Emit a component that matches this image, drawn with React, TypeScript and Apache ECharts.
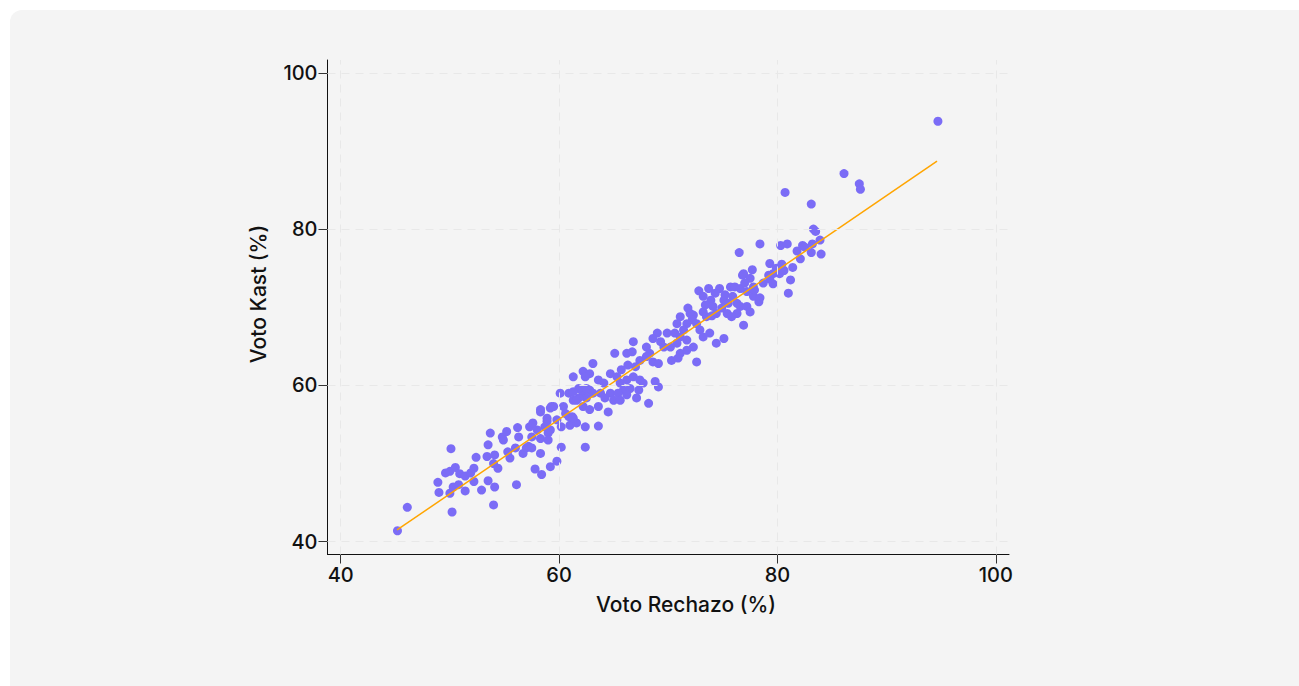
import { useEffect, useRef } from 'react';
import * as echarts from 'echarts';

// Voto Rechazo (%) por comuna
const rechazo = [
  45.2, 46.1, 94.7, 86.1, 87.5, 87.6, 80.7, 83.1, 76.5, 78.4,
  83.3, 83.5, 83.9, 80.3, 80.9, 82.3, 82.5, 81.8, 83.1, 83.2,
  84.0, 82.1, 79.3, 80.4, 79.9, 81.4, 80.2, 80.6, 79.6, 81.2,
  79.3, 78.7, 79.6, 81.0, 76.8, 76.9, 77.7, 77.5, 72.8, 73.7,
  73.2, 73.9, 74.7, 75.7, 76.1, 76.6, 77.2, 77.8, 75.1, 75.5,
  76.3, 74.9, 75.4, 76.6, 77.2, 77.8, 78.3, 76.9, 76.3, 75.8,
  77.5, 79.2, 74.1, 74.4, 73.5, 73.2, 72.3, 71.8, 72.0, 71.1,
  70.8, 72.2, 72.6, 72.9, 73.8, 73.2, 74.4, 75.1, 71.7, 71.4,
  70.6, 71.1, 71.7, 72.3, 72.6, 69.9, 69.0, 68.6, 69.3, 69.6,
  70.2, 70.8, 71.1, 71.7, 70.3, 70.9, 68.0, 68.3, 66.8, 65.1,
  66.2, 66.7, 67.4, 68.0, 68.6, 69.1, 66.3, 67.0, 65.7, 63.1,
  62.2, 62.8, 61.3, 62.4, 63.6, 64.1, 64.7, 65.3, 65.6, 66.2,
  66.8, 67.4, 65.9, 66.5, 67.3, 64.7, 65.4, 63.8, 64.2, 62.8,
  62.2, 62.5, 61.8, 62.2, 62.8, 63.6, 64.5, 65.0, 67.1, 68.2,
  68.8, 69.1, 60.1, 60.9, 61.3, 60.4, 59.3, 60.6, 61.2, 59.8,
  58.9, 60.2, 61.0, 58.3, 58.7, 59.0, 62.4, 63.6, 61.6, 67.7,
  50.2, 54.0, 49.0, 48.9, 50.0, 50.3, 50.8, 51.4, 52.9, 53.5,
  54.1, 56.1, 49.6, 50.0, 50.5, 50.9, 51.4, 51.9, 52.2, 52.2,
  50.1, 52.4, 53.5, 53.7, 53.4, 54.1, 54.0, 54.4, 54.8, 55.2,
  55.3, 55.5, 56.2, 56.3, 56.0, 56.7, 57.0, 57.3, 57.6, 58.0,
  57.5, 58.3, 57.2, 57.5, 58.3, 58.3, 57.8, 58.4, 59.2, 59.8,
  60.2, 58.9, 59.2, 59.2, 59.5, 60.9, 61.3, 61.6, 62.1, 62.4,
  61.8, 62.5, 63.1, 61.3, 65.6, 66.2, 54.9, 59.0, 74.3, 75.2,
  77.0, 77.9, 78.4, 75.9, 73.4, 74.0,
];

// Voto Kast (%) por comuna
const kast = [
  41.4, 44.4, 93.8, 87.1, 85.8, 85.1, 84.7, 83.2, 77.0, 78.1,
  80.0, 79.7, 78.6, 77.9, 78.1, 77.9, 77.7, 77.2, 77.0, 78.1,
  76.8, 76.2, 75.6, 75.5, 75.0, 75.1, 74.3, 74.7, 74.3, 73.5,
  73.6, 73.1, 73.0, 71.8, 74.1, 74.3, 74.8, 73.7, 72.1, 72.4,
  71.4, 70.9, 72.4, 72.6, 72.6, 72.4, 72.0, 72.6, 70.9, 70.5,
  70.5, 69.9, 69.2, 70.1, 70.1, 71.4, 70.7, 67.7, 69.2, 68.8,
  69.4, 74.1, 70.1, 69.2, 68.8, 69.4, 69.0, 69.9, 69.2, 68.8,
  67.9, 68.4, 67.9, 67.1, 66.7, 66.2, 65.4, 66.0, 67.9, 67.1,
  66.7, 66.2, 65.8, 64.9, 63.0, 66.7, 66.7, 66.0, 65.6, 64.9,
  64.9, 65.4, 64.1, 64.5, 63.2, 63.5, 64.9, 64.1, 65.6, 64.1,
  64.1, 64.3, 63.2, 63.7, 63.0, 62.8, 62.6, 62.4, 62.0, 62.8,
  61.8, 61.5, 61.1, 61.1, 60.7, 60.3, 61.5, 61.1, 60.3, 60.7,
  61.1, 60.7, 59.4, 59.6, 59.4, 59.0, 59.0, 59.0, 58.4, 59.4,
  59.0, 58.4, 58.4, 57.3, 56.9, 57.3, 56.6, 58.1, 58.4, 57.7,
  60.5, 59.8, 59.0, 59.0, 58.1, 57.3, 57.3, 56.4, 56.0, 55.6,
  55.8, 54.7, 54.9, 56.6, 54.7, 53.9, 54.7, 54.8, 55.2, 60.3,
  43.8, 44.7, 46.3, 47.6, 46.2, 47.0, 47.3, 46.5, 46.6, 47.8,
  47.0, 47.3, 48.8, 49.0, 49.5, 48.7, 48.4, 48.8, 49.4, 47.7,
  51.9, 50.8, 52.4, 53.9, 50.9, 51.1, 50.0, 49.4, 53.4, 54.1,
  51.5, 50.7, 54.6, 53.4, 52.0, 51.3, 52.0, 54.7, 55.2, 54.3,
  53.4, 53.2, 52.2, 52.0, 51.3, 56.9, 49.3, 48.6, 49.6, 50.3,
  52.1, 55.4, 54.3, 57.1, 57.3, 56.0, 55.8, 58.1, 59.4, 52.1,
  59.6, 59.6, 59.0, 59.2, 58.1, 58.8, 53.0, 53.0, 71.8, 71.6,
  73.1, 72.2, 71.2, 71.4, 70.3, 68.9,
];

// Recta de ajuste
const fitX = [45.16, 94.62];
const fitY = [41.5, 88.7];

const xTicks = [40, 60, 80, 100];
const yTicks = [40, 60, 80, 100];

const FONT = 'Inter, "Noto Sans", sans-serif';

function ScatterChart() {
  const chartRef = useRef<HTMLDivElement>(null);

  useEffect(() => {
    if (!chartRef.current) return;
    const chart = echarts.init(chartRef.current, undefined, { renderer: 'svg' });

    const points = rechazo.map((x, i) => [x, kast[i]]);
    const fit = fitX.map((x, i) => [x, fitY[i]]);

    const axisCommon = {
      type: 'value' as const,
      axisLine: { show: true, onZero: false, lineStyle: { color: '#111', width: 1 } },
      axisTick: { show: true, length: 9, lineStyle: { color: '#333', width: 1 } },
      splitLine: { show: false },
      axisLabel: {
        color: '#111',
        fontSize: 20,
        fontWeight: 500,
        fontFamily: FONT,
        margin: 10,
        showMinLabel: true,
        showMaxLabel: true,
      },
    };

    chart.setOption({
      animation: false,
      backgroundColor: 'transparent',
      textStyle: { fontFamily: FONT },
      grid: {
        left: 317.5,
        top: 50,
        right: 290,
        bottom: 131.5,
        containLabel: false,
        outerBoundsMode: 'none',
      },
      xAxis: {
        ...axisCommon,
        min: 38.79,
        max: 101.21,
        axisTick: { ...axisCommon.axisTick, customValues: xTicks },
        axisLabel: { ...axisCommon.axisLabel, customValues: xTicks },
      },
      yAxis: {
        ...axisCommon,
        min: 38.36,
        max: 101.64,
        axisTick: { ...axisCommon.axisTick, customValues: yTicks },
        axisLabel: { ...axisCommon.axisLabel, customValues: yTicks },
      },
      graphic: [
        {
          type: 'text',
          x: 676,
          y: 594,
          style: {
            text: 'Voto Rechazo (%)',
            fill: '#111',
            font: `500 21px ${FONT}`,
            textAlign: 'center',
            textVerticalAlign: 'middle',
          },
        },
        {
          type: 'text',
          x: 248,
          y: 284,
          rotation: Math.PI / 2,
          style: {
            text: 'Voto Kast (%)',
            fill: '#111',
            font: `500 21px ${FONT}`,
            textAlign: 'center',
            textVerticalAlign: 'middle',
          },
        },
      ],
      series: [
        {
          type: 'line',
          data: [],
          z: 0,
          silent: true,
          markLine: {
            silent: true,
            symbol: 'none',
            label: { show: false },
            lineStyle: { type: [8, 6], color: '#e8e8e8', width: 1 },
            data: [
              ...xTicks.map((v) => ({ xAxis: v })),
              ...yTicks.map((v) => ({ yAxis: v })),
            ],
          },
        },
        {
          type: 'scatter',
          data: points,
          symbolSize: 9,
          z: 2,
          itemStyle: { color: '#7b6cf6', opacity: 1 },
        },
        {
          type: 'line',
          data: fit,
          z: 3,
          showSymbol: false,
          symbol: 'none',
          lineStyle: { color: '#ffa500', width: 1.5 },
        },
      ],
    });

    return () => {
      chart.dispose();
    };
  }, []);

  return <div ref={chartRef} style={{ width: '100%', height: '100%' }} />;
}

export default function App() {
  return (
    <div
      style={{
        position: 'absolute',
        left: 10,
        top: 10,
        width: 1289,
        height: 676,
        background: '#f4f4f4',
        borderRadius: '12px 0 0 0',
        overflow: 'hidden',
      }}
    >
      <ScatterChart />
    </div>
  );
}
